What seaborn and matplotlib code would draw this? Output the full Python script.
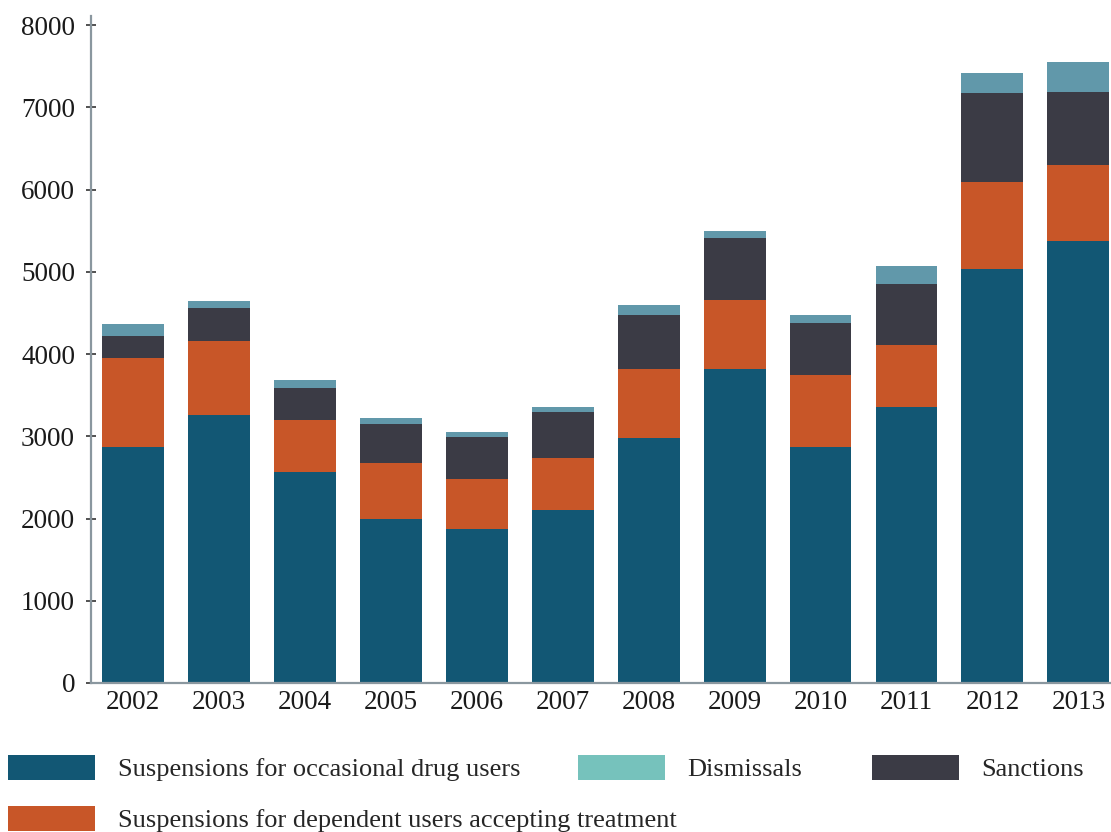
# Stacked bars: suspensions, sanctions and dismissals per year
import numpy as np
import pandas as pd
import matplotlib
matplotlib.use("Agg")
import matplotlib.pyplot as plt
from matplotlib.patches import Patch
import seaborn as sns

# -------- data --------
years = ["2002", "2003", "2004", "2005", "2006", "2007",
         "2008", "2009", "2010", "2011", "2012", "2013"]
occasional = [2875, 3260, 2560, 1990, 1870, 2105, 2980, 3820, 2865, 3360, 5030, 5380]
dependent = [1080, 900, 640, 685, 610, 630, 835, 835, 880, 755, 1065, 915]
sanctions = [270, 400, 385, 475, 510, 565, 665, 760, 630, 740, 1080, 885]
dismissals = [140, 90, 95, 75, 60, 50, 120, 85, 100, 210, 245, 375]

labels = ["Suspensions for occasional drug users",
          "Dismissals",
          "Sanctions",
          "Suspensions for dependent users accepting treatment"]

c_blue = "#125774"
c_orange = "#C85628"
c_dark = "#3B3B45"
c_dism_bar = "#6198AA"
c_dism_leg = "#76C2BC"

df = pd.DataFrame({"year": years, "occasional": occasional, "dependent": dependent,
                   "sanctions": sanctions, "dismissals": dismissals})
df["l1"] = df["occasional"]
df["l2"] = df["l1"] + df["dependent"]
df["l3"] = df["l2"] + df["sanctions"]
df["l4"] = df["l3"] + df["dismissals"]

# -------- style --------
sns.set_theme(style="white")
plt.rcParams["font.family"] = ["Liberation Serif", "DejaVu Serif"]

fig = plt.figure(figsize=(11.11, 8.32), dpi=100)
ax = fig.add_axes([91 / 1111, 1 - 683 / 832, (1111 - 91) / 1111, (683 - 16) / 832])

# cumulative layers, tallest first so lower ones sit on top
for col, color in [("l4", c_dism_bar), ("l3", c_dark), ("l2", c_orange), ("l1", c_blue)]:
    sns.barplot(data=df, x="year", y=col, color=color, saturation=1,
                width=0.72, linewidth=0, ax=ax, errorbar=None)

ax.set_xlim(-0.49, 11.38)
ax.set_ylim(0, 8110)
ax.set_yticks(np.arange(0, 8001, 1000))
ax.set_xlabel("")
ax.set_ylabel("")

for s in ["top", "right"]:
    ax.spines[s].set_visible(False)
for s in ["left", "bottom"]:
    ax.spines[s].set_color("#8A979F")
    ax.spines[s].set_linewidth(1.6)

ax.tick_params(axis="y", direction="inout", length=7, width=1.2, color="#333333",
               labelsize=19.5, pad=8, left=True, labelcolor="#1a1a1a")
ax.tick_params(axis="x", length=0, labelsize=19.5, pad=5, labelcolor="#1a1a1a")

# -------- legend (manually placed entries) --------
entries = [
    (labels[0], c_blue, 8, 768),
    (labels[1], c_dism_leg, 578, 768),
    (labels[2], c_dark, 872, 768),
    (labels[3], c_orange, 8, 819),
]
for text, color, px, py in entries:
    fig.legend(handles=[Patch(facecolor=color, edgecolor="none", label=text)],
               loc="center left", bbox_to_anchor=(px / 1111, 1 - py / 832),
               frameon=False, fontsize=19, borderpad=0, borderaxespad=0,
               handlelength=3.3, handleheight=1.1, handletextpad=0.85)

fig.savefig("out.png", dpi=100)
